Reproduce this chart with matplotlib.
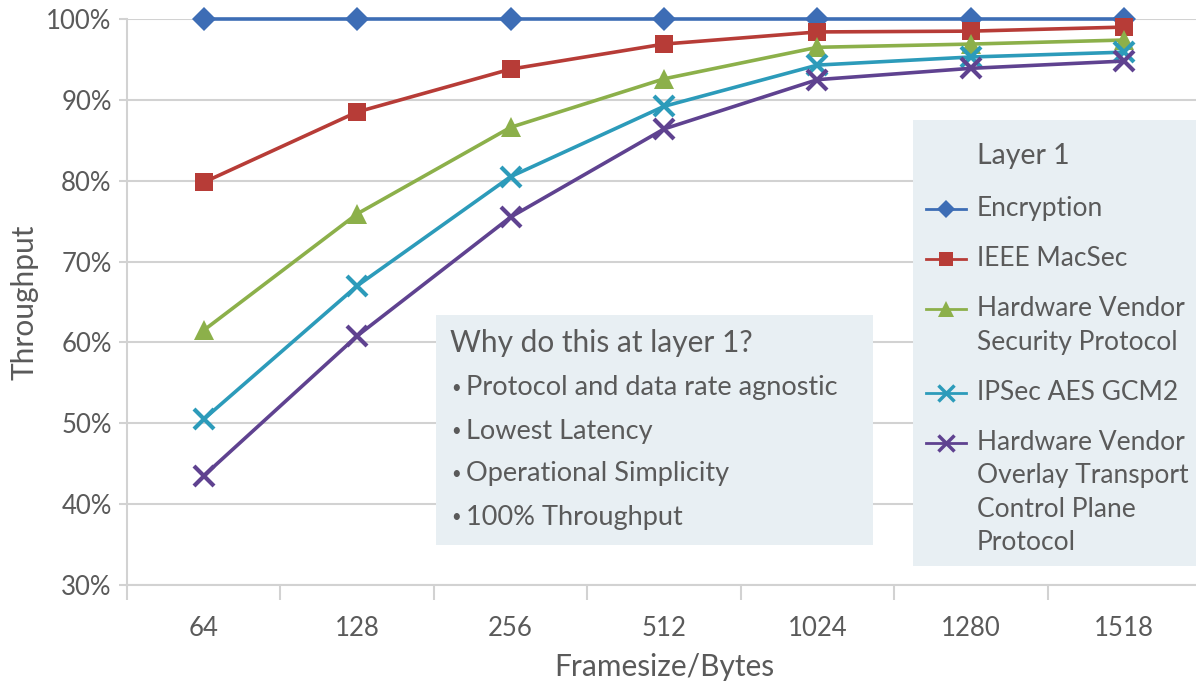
import matplotlib
matplotlib.use("Agg")
import matplotlib.pyplot as plt
from matplotlib.lines import Line2D
from matplotlib.patches import Rectangle
import numpy as np

plt.rcParams['font.family'] = ['Lato', 'DejaVu Sans']

framesizes = ["64", "128", "256", "512", "1024", "1280", "1518"]
encryption = [100, 100, 100, 100, 100, 100, 100]
ieee_macsec = [79.8, 88.5, 93.8, 96.9, 98.4, 98.5, 99.0]
hw_security = [61.5, 75.9, 86.6, 92.6, 96.5, 96.9, 97.4]
ipsec_gcm2 = [50.5, 67.0, 80.5, 89.2, 94.3, 95.3, 95.9]
hw_overlay = [43.5, 60.8, 75.5, 86.4, 92.5, 93.9, 94.8]

series_labels = [
    "Encryption",
    "IEEE MacSec",
    "Hardware Vendor\nSecurity Protocol",
    "IPSec AES GCM2",
    "Hardware Vendor\nOverlay Transport\nControl Plane\nProtocol",
]
yticks = [30, 40, 50, 60, 70, 80, 90, 100]
legend_title = "Layer 1"
box_title = "Why do this at layer 1?"
box_points = [
    "Protocol and data rate agnostic",
    "Lowest Latency",
    "Operational Simplicity",
    "100% Throughput",
]

series = [encryption, ieee_macsec, hw_security, ipsec_gcm2, hw_overlay]
colors = ["#3d6db5", "#b73c37", "#8cb04a", "#2c9bba", "#5f4290"]
markers = ["D", "s", "^", "x", "x"]
msizes = [12, 13, 15, 14, 14]

text_color = "#5a5a5a"
grid_color = "#d2d2d2"
panel_color = "#e8eff3"

W, H = 1196, 683
fig = plt.figure(figsize=(W / 100, H / 100), dpi=100)
ax = fig.add_axes([127 / W, 98 / H, 1074 / W, 566 / H])

x = np.arange(len(framesizes))
for vals, c, m, ms in zip(series, colors, markers, msizes):
    ax.plot(x, vals, color=c, lw=2.6, marker=m, ms=ms, mew=3 if m == "x" else 0,
            mec=c, mfc=c, clip_on=False, zorder=3)

ax.set_xlim(-0.5, len(framesizes) - 0.5)
ax.set_ylim(30, 100)
ax.set_yticks(yticks)
ax.set_yticklabels([f"{v}%" for v in yticks])
ax.set_xticks(x)
ax.set_xticklabels(framesizes)
ax.set_xticks(np.arange(-0.5, len(framesizes)), minor=True)

ax.grid(axis="y", color=grid_color, lw=1.5, zorder=0)
for s in ["top", "right"]:
    ax.spines[s].set_visible(False)
for s in ["left", "bottom"]:
    ax.spines[s].set_color(grid_color)
    ax.spines[s].set_linewidth(1.5)

ax.tick_params(axis="y", length=6, width=1.5, color=grid_color, labelsize=18.5,
               labelcolor=text_color, pad=5)
ax.tick_params(axis="x", which="major", length=0, labelsize=18.5,
               labelcolor=text_color, pad=22)
ax.tick_params(axis="x", which="minor", length=11, width=1.5, color=grid_color)

ax.set_ylabel("Throughput", fontsize=21.5, color=text_color)
ax.set_xlabel("Framesize/Bytes", fontsize=21.5, color=text_color)
ax.yaxis.set_label_coords(-(127 - 25) / 1074, 0.5)
ax.xaxis.set_label_coords(0.5, -(667 - 585) / 566)
ax.xaxis.label.set_va("center")
ax.yaxis.label.set_va("center")


def fy(py):
    return 1 - py / H


# Callout box with bullet points
fig.patches.append(Rectangle((436 / W, fy(545)), (873 - 436) / W, (545 - 315) / H,
                             transform=fig.transFigure, facecolor=panel_color,
                             edgecolor="none", zorder=5))
fig.text(450 / W, fy(343), box_title, fontsize=21.5, color=text_color,
         va="center", ha="left", zorder=6)
for i, pt in enumerate(box_points):
    yy = fy(388 + i * 43)
    fig.text(451 / W, yy, "\u2022", fontsize=12, color=text_color,
             va="center", ha="left", zorder=6)
    fig.text(466 / W, yy, pt, fontsize=19.5, color=text_color,
             va="center", ha="left", zorder=6)

# Legend panel
fig.patches.append(Rectangle((913 / W, fy(566)), (W - 913) / W, (566 - 120) / H,
                             transform=fig.transFigure, facecolor=panel_color,
                             edgecolor="none", zorder=5))
fig.text(977 / W, fy(156), legend_title, fontsize=20.5, color=text_color,
         va="center", ha="left", zorder=6)
line_h = 33.5
y0 = 209
for lab, c, m, ms in zip(series_labels, colors, markers, msizes):
    yy = fy(y0)
    fig.add_artist(Line2D([926 / W, 966 / W], [yy, yy], transform=fig.transFigure,
                          color=c, lw=2, zorder=6))
    fig.add_artist(Line2D([946 / W], [yy], transform=fig.transFigure, color=c,
                          marker=m, ms=ms * 0.8, mew=2.5 if m == "x" else 0,
                          mec=c, mfc=c, zorder=7))
    lines = lab.split("\n")
    for k, ln in enumerate(lines):
        fig.text(977 / W, fy(y0 + k * line_h) , ln, fontsize=19, color=text_color,
                 va="center", ha="left", zorder=6)
    y0 += (len(lines) - 1) * line_h + 50

fig.savefig("out.png", dpi=100)
